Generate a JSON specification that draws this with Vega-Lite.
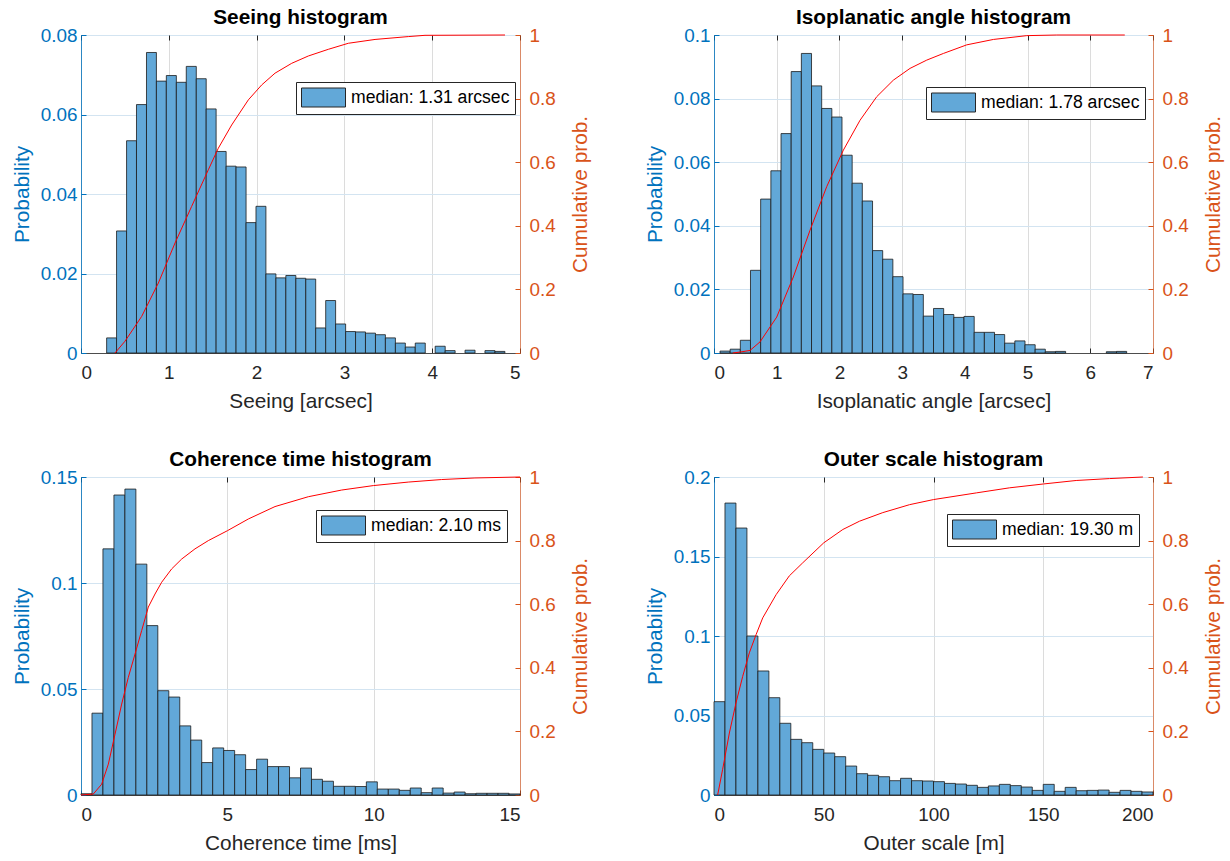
{
  "$schema": "https://vega.github.io/schema/vega-lite/v6.json",
  "background": "white",
  "padding": {"left": 10, "top": 6, "right": 5, "bottom": 5},
  "columns": 2,
  "spacing": {"row": 124, "column": 194},
  "bounds": "flush",
  "resolve": {"scale": {"color": "independent"}, "legend": {"color": "independent"}},
  "config": {
    "font": "Liberation Sans",
    "view": {"stroke": "#4d4d4d", "strokeWidth": 1},
    "title": {"fontSize": 20.8, "fontWeight": "bold", "color": "#000000", "baseline": "alphabetic", "offset": -3},
    "axis": {"labelFontSize": 18.9, "titleFontSize": 20.8, "titleFontWeight": "normal", "tickSize": -5, "domainWidth": 1, "tickWidth": 1, "format": ".6~g"},
    "axisX": {"labelColor": "#262626", "titleColor": "#262626", "domainColor": "#4d4d4d", "tickColor": "#262626", "gridColor": "#dcdcdc", "labelPadding": 15, "titlePadding": 10},
    "legend": {"orient": "none", "title": null, "symbolType": "M-1,-0.95H3.4V0.95H-1Z", "symbolSize": 400, "symbolStrokeColor": "#262626", "symbolStrokeWidth": 1, "labelFontSize": 17.6, "labelColor": "#000000", "labelOffset": 29, "strokeColor": "#262626", "fillColor": "white", "padding": 5}
  },
  "datasets": {
    "h1": [
      {"x0": 0.292, "x1": 0.405, "p": 0.0038, "lab": "median: 1.31 arcsec"},
      {"x0": 0.405, "x1": 0.519, "p": 0.0307, "lab": "median: 1.31 arcsec"},
      {"x0": 0.519, "x1": 0.632, "p": 0.0534, "lab": "median: 1.31 arcsec"},
      {"x0": 0.632, "x1": 0.746, "p": 0.0625, "lab": "median: 1.31 arcsec"},
      {"x0": 0.746, "x1": 0.859, "p": 0.0756, "lab": "median: 1.31 arcsec"},
      {"x0": 0.859, "x1": 0.972, "p": 0.0684, "lab": "median: 1.31 arcsec"},
      {"x0": 0.972, "x1": 1.086, "p": 0.0698, "lab": "median: 1.31 arcsec"},
      {"x0": 1.086, "x1": 1.199, "p": 0.0681, "lab": "median: 1.31 arcsec"},
      {"x0": 1.199, "x1": 1.313, "p": 0.0721, "lab": "median: 1.31 arcsec"},
      {"x0": 1.313, "x1": 1.426, "p": 0.0690, "lab": "median: 1.31 arcsec"},
      {"x0": 1.426, "x1": 1.539, "p": 0.0614, "lab": "median: 1.31 arcsec"},
      {"x0": 1.539, "x1": 1.653, "p": 0.0507, "lab": "median: 1.31 arcsec"},
      {"x0": 1.653, "x1": 1.766, "p": 0.0470, "lab": "median: 1.31 arcsec"},
      {"x0": 1.766, "x1": 1.880, "p": 0.0468, "lab": "median: 1.31 arcsec"},
      {"x0": 1.880, "x1": 1.993, "p": 0.0328, "lab": "median: 1.31 arcsec"},
      {"x0": 1.993, "x1": 2.106, "p": 0.0369, "lab": "median: 1.31 arcsec"},
      {"x0": 2.106, "x1": 2.220, "p": 0.0199, "lab": "median: 1.31 arcsec"},
      {"x0": 2.220, "x1": 2.333, "p": 0.0189, "lab": "median: 1.31 arcsec"},
      {"x0": 2.333, "x1": 2.447, "p": 0.0195, "lab": "median: 1.31 arcsec"},
      {"x0": 2.447, "x1": 2.560, "p": 0.0188, "lab": "median: 1.31 arcsec"},
      {"x0": 2.560, "x1": 2.673, "p": 0.0186, "lab": "median: 1.31 arcsec"},
      {"x0": 2.673, "x1": 2.787, "p": 0.0063, "lab": "median: 1.31 arcsec"},
      {"x0": 2.787, "x1": 2.900, "p": 0.0132, "lab": "median: 1.31 arcsec"},
      {"x0": 2.900, "x1": 3.014, "p": 0.0073, "lab": "median: 1.31 arcsec"},
      {"x0": 3.014, "x1": 3.127, "p": 0.0054, "lab": "median: 1.31 arcsec"},
      {"x0": 3.127, "x1": 3.240, "p": 0.0053, "lab": "median: 1.31 arcsec"},
      {"x0": 3.240, "x1": 3.354, "p": 0.0050, "lab": "median: 1.31 arcsec"},
      {"x0": 3.354, "x1": 3.467, "p": 0.0046, "lab": "median: 1.31 arcsec"},
      {"x0": 3.467, "x1": 3.581, "p": 0.0038, "lab": "median: 1.31 arcsec"},
      {"x0": 3.581, "x1": 3.694, "p": 0.0025, "lab": "median: 1.31 arcsec"},
      {"x0": 3.694, "x1": 3.807, "p": 0.0015, "lab": "median: 1.31 arcsec"},
      {"x0": 3.807, "x1": 3.921, "p": 0.0025, "lab": "median: 1.31 arcsec"},
      {"x0": 4.034, "x1": 4.148, "p": 0.0017, "lab": "median: 1.31 arcsec"},
      {"x0": 4.148, "x1": 4.261, "p": 0.0006, "lab": "median: 1.31 arcsec"},
      {"x0": 4.374, "x1": 4.488, "p": 0.0007, "lab": "median: 1.31 arcsec"},
      {"x0": 4.601, "x1": 4.715, "p": 0.0006, "lab": "median: 1.31 arcsec"},
      {"x0": 4.715, "x1": 4.828, "p": 0.0004, "lab": "median: 1.31 arcsec"}
    ],
    "c1": [
      {"v": 0.387, "c": 0}, {"v": 0.501, "c": 0.037}, {"v": 0.691, "c": 0.115}, {"v": 0.881, "c": 0.22},
      {"v": 1.071, "c": 0.346}, {"v": 1.26, "c": 0.461}, {"v": 1.45, "c": 0.576}, {"v": 1.564, "c": 0.644},
      {"v": 1.716, "c": 0.717}, {"v": 1.906, "c": 0.796}, {"v": 2.058, "c": 0.843}, {"v": 2.21, "c": 0.88},
      {"v": 2.4, "c": 0.911}, {"v": 2.589, "c": 0.934}, {"v": 2.817, "c": 0.955}, {"v": 3.045, "c": 0.974},
      {"v": 3.349, "c": 0.986}, {"v": 3.728, "c": 0.995}, {"v": 3.918, "c": 0.999}, {"v": 4.829, "c": 1.0}
    ],
    "h2": [
      {"x0": 0.096, "x1": 0.258, "p": 0.0006, "lab": "median: 1.78 arcsec"},
      {"x0": 0.258, "x1": 0.420, "p": 0.0012, "lab": "median: 1.78 arcsec"},
      {"x0": 0.420, "x1": 0.582, "p": 0.0040, "lab": "median: 1.78 arcsec"},
      {"x0": 0.582, "x1": 0.744, "p": 0.0260, "lab": "median: 1.78 arcsec"},
      {"x0": 0.744, "x1": 0.907, "p": 0.0484, "lab": "median: 1.78 arcsec"},
      {"x0": 0.907, "x1": 1.069, "p": 0.0573, "lab": "median: 1.78 arcsec"},
      {"x0": 1.069, "x1": 1.231, "p": 0.0690, "lab": "median: 1.78 arcsec"},
      {"x0": 1.231, "x1": 1.393, "p": 0.0885, "lab": "median: 1.78 arcsec"},
      {"x0": 1.393, "x1": 1.555, "p": 0.0942, "lab": "median: 1.78 arcsec"},
      {"x0": 1.555, "x1": 1.717, "p": 0.0840, "lab": "median: 1.78 arcsec"},
      {"x0": 1.717, "x1": 1.879, "p": 0.0769, "lab": "median: 1.78 arcsec"},
      {"x0": 1.879, "x1": 2.041, "p": 0.0742, "lab": "median: 1.78 arcsec"},
      {"x0": 2.041, "x1": 2.203, "p": 0.0622, "lab": "median: 1.78 arcsec"},
      {"x0": 2.203, "x1": 2.365, "p": 0.0534, "lab": "median: 1.78 arcsec"},
      {"x0": 2.365, "x1": 2.528, "p": 0.0478, "lab": "median: 1.78 arcsec"},
      {"x0": 2.528, "x1": 2.690, "p": 0.0322, "lab": "median: 1.78 arcsec"},
      {"x0": 2.690, "x1": 2.852, "p": 0.0295, "lab": "median: 1.78 arcsec"},
      {"x0": 2.852, "x1": 3.014, "p": 0.0240, "lab": "median: 1.78 arcsec"},
      {"x0": 3.014, "x1": 3.176, "p": 0.0186, "lab": "median: 1.78 arcsec"},
      {"x0": 3.176, "x1": 3.338, "p": 0.0184, "lab": "median: 1.78 arcsec"},
      {"x0": 3.338, "x1": 3.500, "p": 0.0116, "lab": "median: 1.78 arcsec"},
      {"x0": 3.500, "x1": 3.662, "p": 0.0140, "lab": "median: 1.78 arcsec"},
      {"x0": 3.662, "x1": 3.824, "p": 0.0121, "lab": "median: 1.78 arcsec"},
      {"x0": 3.824, "x1": 3.986, "p": 0.0112, "lab": "median: 1.78 arcsec"},
      {"x0": 3.986, "x1": 4.149, "p": 0.0115, "lab": "median: 1.78 arcsec"},
      {"x0": 4.149, "x1": 4.311, "p": 0.0065, "lab": "median: 1.78 arcsec"},
      {"x0": 4.311, "x1": 4.473, "p": 0.0065, "lab": "median: 1.78 arcsec"},
      {"x0": 4.473, "x1": 4.635, "p": 0.0058, "lab": "median: 1.78 arcsec"},
      {"x0": 4.635, "x1": 4.797, "p": 0.0031, "lab": "median: 1.78 arcsec"},
      {"x0": 4.797, "x1": 4.959, "p": 0.0038, "lab": "median: 1.78 arcsec"},
      {"x0": 4.959, "x1": 5.121, "p": 0.0026, "lab": "median: 1.78 arcsec"},
      {"x0": 5.121, "x1": 5.283, "p": 0.0012, "lab": "median: 1.78 arcsec"},
      {"x0": 5.283, "x1": 5.445, "p": 0.0004, "lab": "median: 1.78 arcsec"},
      {"x0": 5.445, "x1": 5.607, "p": 0.0005, "lab": "median: 1.78 arcsec"},
      {"x0": 6.256, "x1": 6.418, "p": 0.0004, "lab": "median: 1.78 arcsec"},
      {"x0": 6.418, "x1": 6.580, "p": 0.0005, "lab": "median: 1.78 arcsec"}
    ],
    "c2": [
      {"v": 0.3, "c": 0}, {"v": 0.415, "c": 0.003}, {"v": 0.574, "c": 0.008}, {"v": 0.734, "c": 0.035},
      {"v": 1.0, "c": 0.113}, {"v": 1.265, "c": 0.239}, {"v": 1.531, "c": 0.386}, {"v": 1.797, "c": 0.523},
      {"v": 2.063, "c": 0.638}, {"v": 2.329, "c": 0.732}, {"v": 2.595, "c": 0.806}, {"v": 2.86, "c": 0.858},
      {"v": 3.126, "c": 0.895}, {"v": 3.392, "c": 0.921}, {"v": 3.658, "c": 0.942}, {"v": 4.03, "c": 0.969},
      {"v": 4.455, "c": 0.986}, {"v": 4.987, "c": 0.998}, {"v": 5.466, "c": 1.0}, {"v": 6.55, "c": 1.0}
    ],
    "h3": [
      {"x0": 0, "x1": 0.375, "p": 0.0006, "lab": "median: 2.10 ms"},
      {"x0": 0.375, "x1": 0.75, "p": 0.0386, "lab": "median: 2.10 ms"},
      {"x0": 0.75, "x1": 1.125, "p": 0.1161, "lab": "median: 2.10 ms"},
      {"x0": 1.125, "x1": 1.5, "p": 0.1415, "lab": "median: 2.10 ms"},
      {"x0": 1.5, "x1": 1.875, "p": 0.1443, "lab": "median: 2.10 ms"},
      {"x0": 1.875, "x1": 2.25, "p": 0.1089, "lab": "median: 2.10 ms"},
      {"x0": 2.25, "x1": 2.625, "p": 0.0799, "lab": "median: 2.10 ms"},
      {"x0": 2.625, "x1": 3.0, "p": 0.0492, "lab": "median: 2.10 ms"},
      {"x0": 3.0, "x1": 3.375, "p": 0.0462, "lab": "median: 2.10 ms"},
      {"x0": 3.375, "x1": 3.75, "p": 0.0326, "lab": "median: 2.10 ms"},
      {"x0": 3.75, "x1": 4.125, "p": 0.0259, "lab": "median: 2.10 ms"},
      {"x0": 4.125, "x1": 4.5, "p": 0.0153, "lab": "median: 2.10 ms"},
      {"x0": 4.5, "x1": 4.875, "p": 0.0222, "lab": "median: 2.10 ms"},
      {"x0": 4.875, "x1": 5.25, "p": 0.0210, "lab": "median: 2.10 ms"},
      {"x0": 5.25, "x1": 5.625, "p": 0.0190, "lab": "median: 2.10 ms"},
      {"x0": 5.625, "x1": 6.0, "p": 0.0120, "lab": "median: 2.10 ms"},
      {"x0": 6.0, "x1": 6.375, "p": 0.0169, "lab": "median: 2.10 ms"},
      {"x0": 6.375, "x1": 6.75, "p": 0.0134, "lab": "median: 2.10 ms"},
      {"x0": 6.75, "x1": 7.125, "p": 0.0134, "lab": "median: 2.10 ms"},
      {"x0": 7.125, "x1": 7.5, "p": 0.0081, "lab": "median: 2.10 ms"},
      {"x0": 7.5, "x1": 7.875, "p": 0.0127, "lab": "median: 2.10 ms"},
      {"x0": 7.875, "x1": 8.25, "p": 0.0074, "lab": "median: 2.10 ms"},
      {"x0": 8.25, "x1": 8.625, "p": 0.0065, "lab": "median: 2.10 ms"},
      {"x0": 8.625, "x1": 9.0, "p": 0.0041, "lab": "median: 2.10 ms"},
      {"x0": 9.0, "x1": 9.375, "p": 0.0041, "lab": "median: 2.10 ms"},
      {"x0": 9.375, "x1": 9.75, "p": 0.0040, "lab": "median: 2.10 ms"},
      {"x0": 9.75, "x1": 10.125, "p": 0.0062, "lab": "median: 2.10 ms"},
      {"x0": 10.125, "x1": 10.5, "p": 0.0028, "lab": "median: 2.10 ms"},
      {"x0": 10.5, "x1": 10.875, "p": 0.0028, "lab": "median: 2.10 ms"},
      {"x0": 10.875, "x1": 11.25, "p": 0.0022, "lab": "median: 2.10 ms"},
      {"x0": 11.25, "x1": 11.625, "p": 0.0033, "lab": "median: 2.10 ms"},
      {"x0": 11.625, "x1": 12.0, "p": 0.0011, "lab": "median: 2.10 ms"},
      {"x0": 12.0, "x1": 12.375, "p": 0.0033, "lab": "median: 2.10 ms"},
      {"x0": 12.375, "x1": 12.75, "p": 0.0009, "lab": "median: 2.10 ms"},
      {"x0": 12.75, "x1": 13.125, "p": 0.0014, "lab": "median: 2.10 ms"},
      {"x0": 13.125, "x1": 13.5, "p": 0.0006, "lab": "median: 2.10 ms"},
      {"x0": 13.5, "x1": 13.875, "p": 0.0008, "lab": "median: 2.10 ms"},
      {"x0": 13.875, "x1": 14.25, "p": 0.0008, "lab": "median: 2.10 ms"},
      {"x0": 14.25, "x1": 14.625, "p": 0.0008, "lab": "median: 2.10 ms"},
      {"x0": 14.625, "x1": 15.0, "p": 0.0005, "lab": "median: 2.10 ms"}
    ],
    "c3": [
      {"v": 0, "c": 0}, {"v": 0.42, "c": 0.003}, {"v": 0.706, "c": 0.034}, {"v": 0.934, "c": 0.097},
      {"v": 1.162, "c": 0.191}, {"v": 1.39, "c": 0.286}, {"v": 1.617, "c": 0.37}, {"v": 1.845, "c": 0.443},
      {"v": 2.073, "c": 0.517}, {"v": 2.301, "c": 0.591}, {"v": 2.529, "c": 0.632}, {"v": 2.756, "c": 0.669},
      {"v": 3.098, "c": 0.711}, {"v": 3.44, "c": 0.742}, {"v": 3.895, "c": 0.774}, {"v": 4.351, "c": 0.8},
      {"v": 5.0, "c": 0.831}, {"v": 5.718, "c": 0.868}, {"v": 6.629, "c": 0.907}, {"v": 7.768, "c": 0.938},
      {"v": 8.907, "c": 0.959}, {"v": 9.989, "c": 0.973}, {"v": 11.18, "c": 0.984}, {"v": 12.32, "c": 0.992},
      {"v": 13.46, "c": 0.997}, {"v": 15.0, "c": 1.0}
    ],
    "h4": [
      {"x0": 0, "x1": 5, "p": 0.0587, "lab": "median: 19.30 m"},
      {"x0": 5, "x1": 10, "p": 0.1836, "lab": "median: 19.30 m"},
      {"x0": 10, "x1": 15, "p": 0.1679, "lab": "median: 19.30 m"},
      {"x0": 15, "x1": 20, "p": 0.1000, "lab": "median: 19.30 m"},
      {"x0": 20, "x1": 25, "p": 0.0780, "lab": "median: 19.30 m"},
      {"x0": 25, "x1": 30, "p": 0.0612, "lab": "median: 19.30 m"},
      {"x0": 30, "x1": 35, "p": 0.0451, "lab": "median: 19.30 m"},
      {"x0": 35, "x1": 40, "p": 0.0350, "lab": "median: 19.30 m"},
      {"x0": 40, "x1": 45, "p": 0.0329, "lab": "median: 19.30 m"},
      {"x0": 45, "x1": 50, "p": 0.0287, "lab": "median: 19.30 m"},
      {"x0": 50, "x1": 55, "p": 0.0264, "lab": "median: 19.30 m"},
      {"x0": 55, "x1": 60, "p": 0.0241, "lab": "median: 19.30 m"},
      {"x0": 60, "x1": 65, "p": 0.0182, "lab": "median: 19.30 m"},
      {"x0": 65, "x1": 70, "p": 0.0134, "lab": "median: 19.30 m"},
      {"x0": 70, "x1": 75, "p": 0.0124, "lab": "median: 19.30 m"},
      {"x0": 75, "x1": 80, "p": 0.0115, "lab": "median: 19.30 m"},
      {"x0": 80, "x1": 85, "p": 0.0090, "lab": "median: 19.30 m"},
      {"x0": 85, "x1": 90, "p": 0.0105, "lab": "median: 19.30 m"},
      {"x0": 90, "x1": 95, "p": 0.0090, "lab": "median: 19.30 m"},
      {"x0": 95, "x1": 100, "p": 0.0088, "lab": "median: 19.30 m"},
      {"x0": 100, "x1": 105, "p": 0.0084, "lab": "median: 19.30 m"},
      {"x0": 105, "x1": 110, "p": 0.0073, "lab": "median: 19.30 m"},
      {"x0": 110, "x1": 115, "p": 0.0069, "lab": "median: 19.30 m"},
      {"x0": 115, "x1": 120, "p": 0.0061, "lab": "median: 19.30 m"},
      {"x0": 120, "x1": 125, "p": 0.0048, "lab": "median: 19.30 m"},
      {"x0": 125, "x1": 130, "p": 0.0057, "lab": "median: 19.30 m"},
      {"x0": 130, "x1": 135, "p": 0.0067, "lab": "median: 19.30 m"},
      {"x0": 135, "x1": 140, "p": 0.0059, "lab": "median: 19.30 m"},
      {"x0": 140, "x1": 145, "p": 0.0050, "lab": "median: 19.30 m"},
      {"x0": 145, "x1": 150, "p": 0.0029, "lab": "median: 19.30 m"},
      {"x0": 150, "x1": 155, "p": 0.0067, "lab": "median: 19.30 m"},
      {"x0": 155, "x1": 160, "p": 0.0023, "lab": "median: 19.30 m"},
      {"x0": 160, "x1": 165, "p": 0.0048, "lab": "median: 19.30 m"},
      {"x0": 165, "x1": 170, "p": 0.0027, "lab": "median: 19.30 m"},
      {"x0": 170, "x1": 175, "p": 0.0029, "lab": "median: 19.30 m"},
      {"x0": 175, "x1": 180, "p": 0.0031, "lab": "median: 19.30 m"},
      {"x0": 180, "x1": 185, "p": 0.0017, "lab": "median: 19.30 m"},
      {"x0": 185, "x1": 190, "p": 0.0029, "lab": "median: 19.30 m"},
      {"x0": 190, "x1": 195, "p": 0.0023, "lab": "median: 19.30 m"},
      {"x0": 195, "x1": 200, "p": 0.0019, "lab": "median: 19.30 m"}
    ],
    "c4": [
      {"v": 1.67, "c": 0}, {"v": 3.95, "c": 0.081}, {"v": 7.0, "c": 0.195}, {"v": 10.0, "c": 0.289},
      {"v": 13.07, "c": 0.373}, {"v": 16.1, "c": 0.447}, {"v": 19.15, "c": 0.504}, {"v": 22.2, "c": 0.557},
      {"v": 28.3, "c": 0.63}, {"v": 34.3, "c": 0.689}, {"v": 40.4, "c": 0.73}, {"v": 50.0, "c": 0.793},
      {"v": 58.7, "c": 0.835}, {"v": 66.3, "c": 0.861}, {"v": 76.9, "c": 0.888}, {"v": 89.1, "c": 0.913},
      {"v": 100.0, "c": 0.929}, {"v": 119.5, "c": 0.95}, {"v": 134.7, "c": 0.966}, {"v": 150.0, "c": 0.978},
      {"v": 165.0, "c": 0.989}, {"v": 180.2, "c": 0.995}, {"v": 195.4, "c": 1.0}
    ]
  },
  "concat": [
    {
      "width": 439, "height": 318,
      "title": "Seeing histogram",
      "resolve": {"scale": {"y": "independent"}, "axis": {"x": "independent"}},
      "layer": [
        {
          "data": {"name": "h1"},
          "mark": {"type": "rect", "stroke": "#1a1a1a", "strokeWidth": 0.8},
          "encoding": {
            "x": {"field": "x0", "type": "quantitative", "scale": {"domain": [0, 5], "nice": false, "zero": false},
                  "axis": {"title": "Seeing [arcsec]", "values": [0, 1, 2, 3, 4, 5]}},
            "x2": {"field": "x1"},
            "y": {"field": "p", "type": "quantitative", "scale": {"domain": [0, 0.08], "nice": false},
                  "axis": {"title": "Probability", "values": [0, 0.02, 0.04, 0.06, 0.08], "labelColor": "#0072BD", "titleColor": "#0072BD", "domainColor": "#0072BD", "domainOpacity": 0.8, "tickColor": "#0072BD", "gridColor": "#d3e4f1", "labelPadding": 9, "titlePadding": 8}},
            "y2": {"datum": 0},
            "color": {"field": "lab", "type": "nominal", "scale": {"range": ["#62a8d8"]}, "legend": {"legendX": 215, "legendY": 47}}
          }
        },
        {
          "data": {"name": "c1"},
          "mark": {"type": "line", "color": "#ff0000", "strokeWidth": 1},
          "encoding": {
            "x": {"field": "v", "type": "quantitative", "scale": {"domain": [0, 5], "nice": false, "zero": false},
                  "axis": {"orient": "top", "labels": false, "title": null, "grid": false, "domain": false, "values": [0, 1, 2, 3, 4, 5]}},
            "y": {"field": "c", "type": "quantitative", "scale": {"domain": [0, 1], "nice": false},
                  "axis": {"orient": "right", "title": "Cumulative prob.", "values": [0, 0.2, 0.4, 0.6, 0.8, 1], "grid": false, "labelColor": "#D95319", "titleColor": "#D95319", "domainColor": "#D95319", "domainOpacity": 0.6, "tickColor": "#D95319", "titleAngle": 270, "titleBaseline": "top", "labelPadding": 14, "titlePadding": 15}}
          }
        }
      ]
    },
    {
      "width": 439, "height": 318,
      "title": "Isoplanatic angle histogram",
      "resolve": {"scale": {"y": "independent"}, "axis": {"x": "independent"}},
      "layer": [
        {
          "data": {"name": "h2"},
          "mark": {"type": "rect", "stroke": "#1a1a1a", "strokeWidth": 0.8},
          "encoding": {
            "x": {"field": "x0", "type": "quantitative", "scale": {"domain": [0, 7], "nice": false, "zero": false},
                  "axis": {"title": "Isoplanatic angle [arcsec]", "values": [0, 1, 2, 3, 4, 5, 6, 7]}},
            "x2": {"field": "x1"},
            "y": {"field": "p", "type": "quantitative", "scale": {"domain": [0, 0.1], "nice": false},
                  "axis": {"title": "Probability", "values": [0, 0.02, 0.04, 0.06, 0.08, 0.1], "labelColor": "#0072BD", "titleColor": "#0072BD", "domainColor": "#0072BD", "domainOpacity": 0.8, "tickColor": "#0072BD", "gridColor": "#d3e4f1", "labelPadding": 9, "titlePadding": 8}},
            "y2": {"datum": 0},
            "color": {"field": "lab", "type": "nominal", "scale": {"range": ["#62a8d8"]}, "legend": {"legendX": 212, "legendY": 52}}
          }
        },
        {
          "data": {"name": "c2"},
          "mark": {"type": "line", "color": "#ff0000", "strokeWidth": 1},
          "encoding": {
            "x": {"field": "v", "type": "quantitative", "scale": {"domain": [0, 7], "nice": false, "zero": false},
                  "axis": {"orient": "top", "labels": false, "title": null, "grid": false, "domain": false, "values": [0, 1, 2, 3, 4, 5, 6, 7]}},
            "y": {"field": "c", "type": "quantitative", "scale": {"domain": [0, 1], "nice": false},
                  "axis": {"orient": "right", "title": "Cumulative prob.", "values": [0, 0.2, 0.4, 0.6, 0.8, 1], "grid": false, "labelColor": "#D95319", "titleColor": "#D95319", "domainColor": "#D95319", "domainOpacity": 0.6, "tickColor": "#D95319", "titleAngle": 270, "titleBaseline": "top", "labelPadding": 14, "titlePadding": 15}}
          }
        }
      ]
    },
    {
      "width": 439, "height": 318,
      "title": "Coherence time histogram",
      "resolve": {"scale": {"y": "independent"}, "axis": {"x": "independent"}},
      "layer": [
        {
          "data": {"name": "h3"},
          "mark": {"type": "rect", "stroke": "#1a1a1a", "strokeWidth": 0.8},
          "encoding": {
            "x": {"field": "x0", "type": "quantitative", "scale": {"domain": [0, 15], "nice": false, "zero": false},
                  "axis": {"title": "Coherence time [ms]", "values": [0, 5, 10, 15]}},
            "x2": {"field": "x1"},
            "y": {"field": "p", "type": "quantitative", "scale": {"domain": [0, 0.15], "nice": false},
                  "axis": {"title": "Probability", "values": [0, 0.05, 0.1, 0.15], "labelColor": "#0072BD", "titleColor": "#0072BD", "domainColor": "#0072BD", "domainOpacity": 0.8, "tickColor": "#0072BD", "gridColor": "#d3e4f1", "labelPadding": 9, "titlePadding": 8}},
            "y2": {"datum": 0},
            "color": {"field": "lab", "type": "nominal", "scale": {"range": ["#62a8d8"]}, "legend": {"legendX": 235, "legendY": 33}}
          }
        },
        {
          "data": {"name": "c3"},
          "mark": {"type": "line", "color": "#ff0000", "strokeWidth": 1},
          "encoding": {
            "x": {"field": "v", "type": "quantitative", "scale": {"domain": [0, 15], "nice": false, "zero": false},
                  "axis": {"orient": "top", "labels": false, "title": null, "grid": false, "domain": false, "values": [0, 5, 10, 15]}},
            "y": {"field": "c", "type": "quantitative", "scale": {"domain": [0, 1], "nice": false},
                  "axis": {"orient": "right", "title": "Cumulative prob.", "values": [0, 0.2, 0.4, 0.6, 0.8, 1], "grid": false, "labelColor": "#D95319", "titleColor": "#D95319", "domainColor": "#D95319", "domainOpacity": 0.6, "tickColor": "#D95319", "titleAngle": 270, "titleBaseline": "top", "labelPadding": 14, "titlePadding": 15}}
          }
        }
      ]
    },
    {
      "width": 439, "height": 318,
      "title": "Outer scale histogram",
      "resolve": {"scale": {"y": "independent"}, "axis": {"x": "independent"}},
      "layer": [
        {
          "data": {"name": "h4"},
          "mark": {"type": "rect", "stroke": "#1a1a1a", "strokeWidth": 0.8},
          "encoding": {
            "x": {"field": "x0", "type": "quantitative", "scale": {"domain": [0, 200], "nice": false, "zero": false},
                  "axis": {"title": "Outer scale [m]", "values": [0, 50, 100, 150, 200]}},
            "x2": {"field": "x1"},
            "y": {"field": "p", "type": "quantitative", "scale": {"domain": [0, 0.2], "nice": false},
                  "axis": {"title": "Probability", "values": [0, 0.05, 0.1, 0.15, 0.2], "labelColor": "#0072BD", "titleColor": "#0072BD", "domainColor": "#0072BD", "domainOpacity": 0.8, "tickColor": "#0072BD", "gridColor": "#d3e4f1", "labelPadding": 9, "titlePadding": 8}},
            "y2": {"datum": 0},
            "color": {"field": "lab", "type": "nominal", "scale": {"range": ["#62a8d8"]}, "legend": {"legendX": 233, "legendY": 37}}
          }
        },
        {
          "data": {"name": "c4"},
          "mark": {"type": "line", "color": "#ff0000", "strokeWidth": 1},
          "encoding": {
            "x": {"field": "v", "type": "quantitative", "scale": {"domain": [0, 200], "nice": false, "zero": false},
                  "axis": {"orient": "top", "labels": false, "title": null, "grid": false, "domain": false, "values": [0, 50, 100, 150, 200]}},
            "y": {"field": "c", "type": "quantitative", "scale": {"domain": [0, 1], "nice": false},
                  "axis": {"orient": "right", "title": "Cumulative prob.", "values": [0, 0.2, 0.4, 0.6, 0.8, 1], "grid": false, "labelColor": "#D95319", "titleColor": "#D95319", "domainColor": "#D95319", "domainOpacity": 0.6, "tickColor": "#D95319", "titleAngle": 270, "titleBaseline": "top", "labelPadding": 14, "titlePadding": 15}}
          }
        }
      ]
    }
  ]
}
